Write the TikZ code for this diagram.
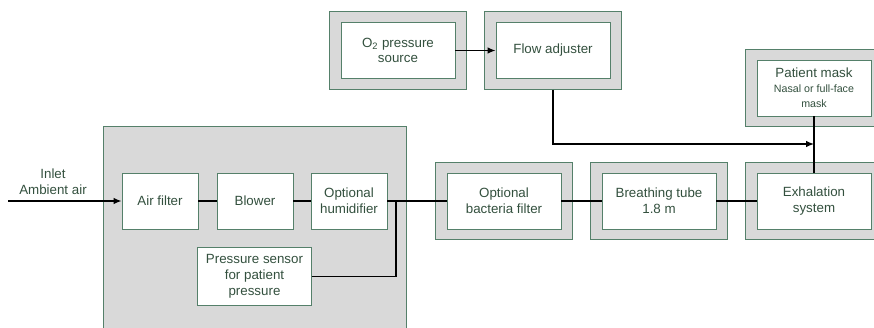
\documentclass[tikz,border=0pt]{standalone}
\usepackage{fontspec}
\setmainfont{Liberation Sans}
\usetikzlibrary{arrows.meta,fit,backgrounds,calc}
\definecolor{bordergreen}{HTML}{55806A}
\definecolor{txtgreen}{HTML}{33503E}
\definecolor{panelgray}{HTML}{D9D9D9}
\newcommand{\smalltxt}{\fontsize{8pt}{9.5pt}\selectfont}
\begin{document}
\begin{tikzpicture}[x=0.75pt,y=-0.75pt,
  inbox/.style={draw=bordergreen,line width=0.7pt,fill=white,text=txtgreen,
    align=center,inner sep=0pt,font=\fontsize{10pt}{11.8pt}\selectfont},
  outbox/.style={draw=bordergreen,line width=0.7pt,fill=panelgray,
    inner xsep=8.25pt,inner ysep=7.5pt},
  conn/.style={draw=black,line width=1pt},
  arr/.style={conn,-{Latex[length=6pt,width=5pt]}},
  lbl/.style={text=txtgreen,align=center,font=\fontsize{10pt}{11.8pt}\selectfont}]
\useasboundingbox (0,0) rectangle (874,328);
% large panel
\path[draw=bordergreen,line width=0.7pt,fill=panelgray] (103,126) rectangle (406,340);
% inner boxes
\node[inbox,minimum width=57pt,minimum height=42pt] (air) at (160,201) {Air filter};
\node[inbox,minimum width=57pt,minimum height=42pt] (blow) at (255,201) {Blower};
\node[inbox,minimum width=57pt,minimum height=42pt] (hum) at (349,201) {Optional\\humidifier};
\node[inbox,minimum width=85pt,minimum height=43pt] (sens) at (254.5,276.5) {Pressure sensor\\for patient\\pressure};
\node[inbox,minimum width=85.5pt,minimum height=42.5pt] (o2) at (398,50.5) {O\textsubscript{2} pressure\\source};
\node[inbox,minimum width=85.5pt,minimum height=42.5pt] (flow) at (553,50.5) {Flow adjuster};
\node[inbox,minimum width=85.5pt,minimum height=42pt] (mask) at (814,88) {Patient mask\\[-1pt]\smalltxt Nasal or full-face\\\smalltxt mask};
\node[inbox,minimum width=85.5pt,minimum height=42pt] (bact) at (504,201) {Optional\\bacteria filter};
\node[inbox,minimum width=85.5pt,minimum height=42pt] (tube) at (659,201) {Breathing tube\\1.8 m};
\node[inbox,minimum width=85.5pt,minimum height=42pt] (exh) at (814,201) {Exhalation\\system};
\begin{scope}[on background layer]
  \node[outbox,fit=(o2)] (o2o) {};
  \node[outbox,fit=(flow)] (flowo) {};
  \node[outbox,fit=(mask)] (masko) {};
  \node[outbox,fit=(bact)] (bacto) {};
  \node[outbox,fit=(tube)] (tubeo) {};
  \node[outbox,fit=(exh)] (exho) {};
\end{scope}
% label
\node[lbl] (inlet) at (53,182) {Inlet\\Ambient air};
% connectors
\coordinate (src) at (8,201);
\coordinate (junc) at (396,201);
\coordinate (mix) at (814,144);
\draw[arr] (src) -- (air.west);
\draw[conn] (air) -- (blow);
\draw[conn] (blow) -- (hum);
\draw[conn] (hum.east) -- (bact.west);
\draw[conn] (sens.east) -| (junc);
\draw[conn] (bact) -- (tube);
\draw[conn] (tube) -- (exh);
\draw[arr] (o2.east) -- (flow.west);
\draw[conn] (mask.south) -- (exh.north);
\draw[arr] (flowo.south) |- (mix);
\end{tikzpicture}
\end{document}
